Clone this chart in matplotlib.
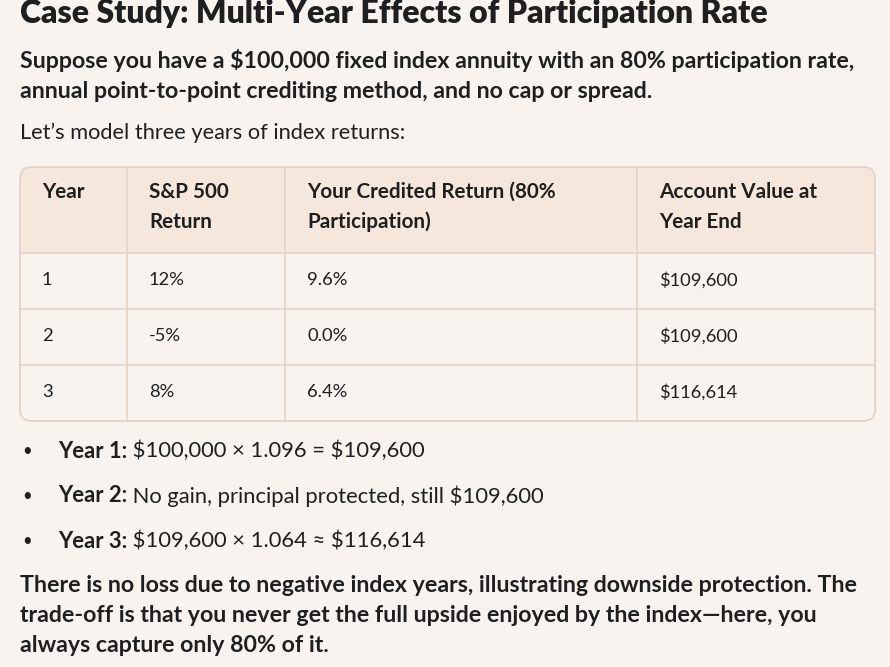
import matplotlib
matplotlib.use('Agg')
import matplotlib.pyplot as plt
from matplotlib.patches import FancyBboxPatch, Rectangle
from matplotlib.lines import Line2D

W, H = 890, 667
BG = '#f8f3ef'
HEAD = '#f6e7dd'
EDGE = '#e4d3c9'
INK = '#1f1f1f'
plt.rcParams['font.family'] = ['Lato', 'DejaVu Sans']
plt.rcParams['text.parse_math'] = False

title = 'Case Study: Multi-Year Effects of Participation Rate'
intro = ['Suppose you have a $100,000 fixed index annuity with an 80% participation rate,',
         'annual point-to-point crediting method, and no cap or spread.']
lead = 'Let\u2019s model three years of index returns:'
headers = [['Year'], ['S&P 500', 'Return'], ['Your Credited Return (80%', 'Participation)'],
           ['Account Value at', 'Year End']]
years = ['1', '2', '3']
sp_returns = ['12%', '-5%', '8%']
credited = ['9.6%', '0.0%', '6.4%']
values = ['$109,600', '$109,600', '$116,614']
bullet_bold = ['Year 1:', 'Year 2:', 'Year 3:']
bullet_text = [' $100,000 \u00d7 1.096 = $109,600', ' No gain, principal protected, still $109,600',
               ' $109,600 \u00d7 1.064 \u2248 $116,614']
outro = ['There is no loss due to negative index years, illustrating downside protection. The',
         'trade-off is that you never get the full upside enjoyed by the index\u2014here, you',
         'always capture only 80% of it.']

fig = plt.figure(figsize=(W / 100, H / 100), dpi=100)
fig.patch.set_facecolor(BG)
ax = fig.add_axes([0, 0, 1, 1])
ax.set_xlim(0, W)
ax.set_ylim(H, 0)
ax.axis('off')

def txt(x, y, s, size=13.5, weight='normal'):
    return ax.text(x, y, s, fontsize=size, fontweight=weight, color=INK, va='center', ha='left')

txt(20, 13, title, 23, 'heavy')
for i, s in enumerate(intro):
    txt(20, 60 + 31 * i, s, 16.7, 'bold')
txt(20, 133, lead, 15.7)

# table
x0, x1, y0, y1 = 20, 875, 167, 421
cols = [x0, 127, 285, 637, x1]
rows = [y0, 253, 309, 365, y1]
box = FancyBboxPatch((x0, y0), x1 - x0, y1 - y0, boxstyle='round,pad=0,rounding_size=12',
                     fc=BG, ec=EDGE, lw=1.2, zorder=1)
ax.add_patch(box)
hdr = Rectangle((x0, y0), x1 - x0, rows[1] - y0, fc=HEAD, ec='none', zorder=1.5)
ax.add_patch(hdr)
hdr.set_clip_path(box)
for y in rows[1:-1]:
    ax.add_line(Line2D([x0, x1], [y, y], color=EDGE, lw=1.2, zorder=2))
for x in cols[1:-1]:
    ax.add_line(Line2D([x, x], [y0, y1], color=EDGE, lw=1.2, zorder=2))
ax.add_patch(FancyBboxPatch((x0, y0), x1 - x0, y1 - y0, boxstyle='round,pad=0,rounding_size=12',
                            fc='none', ec=EDGE, lw=1.2, zorder=3))
for c, lines in enumerate(headers):
    for j, s in enumerate(lines):
        txt(cols[c] + 22, 192 + 30 * j, s, 14.9, 'bold')
for r in range(3):
    yy = 280 + 56 * r
    for c, s in enumerate([years[r], sp_returns[r], credited[r], values[r]]):
        txt(cols[c] + 22, yy, s, 13.2)

# bullets
fig.canvas.draw()
rend = fig.canvas.get_renderer()
inv = ax.transData.inverted()
for i in range(3):
    yy = 451 + 45 * i
    txt(22, yy, '\u2022', 12)
    t = txt(58, yy, bullet_bold[i], 15.8, 'bold')
    bb = t.get_window_extent(renderer=rend)
    xe = inv.transform((bb.x1, bb.y0))[0]
    txt(xe, yy, bullet_text[i], 15.8)

for i, s in enumerate(outro):
    txt(20, 586 + 30 * i, s, 16.7, 'bold')

fig.savefig('out.png', dpi=100, facecolor=BG)
